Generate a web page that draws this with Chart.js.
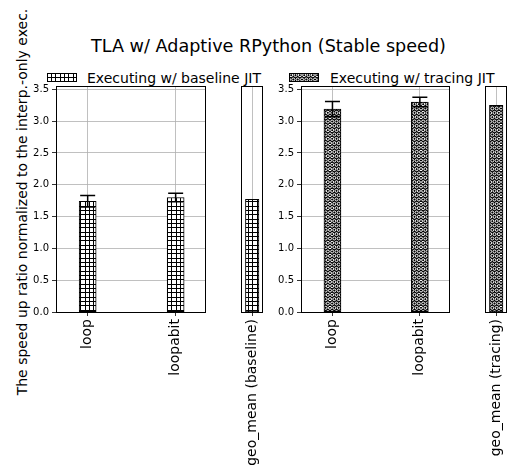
<!DOCTYPE html>
<html>
<head>
<meta charset="utf-8">
<script src="https://cdn.jsdelivr.net/npm/chart.js@4.4.0/dist/chart.umd.min.js"></script>
<style>
  body { margin: 0; width: 526px; height: 471px; overflow: hidden; background: #fff; position: relative;
         font-family: "DejaVu Sans", sans-serif; color: #000; }
  .abs { position: absolute; }
  #title { left: 0; width: 537px; top: 38px; text-align: center; font-size: 17.6px; line-height: 17.6px; white-space: nowrap; }
  .legtext { font-size: 14px; line-height: 14px; top: 71px; white-space: nowrap; }
  #ylabel { font-size: 14px; line-height: 14px; white-space: nowrap; left: 22px; top: 202px;
            transform: translate(-50%, -50%) rotate(-90deg); }
</style>
</head>
<body>
<div id="title" class="abs">TLA w/ Adaptive RPython (Stable speed)</div>
<canvas id="swBase" class="abs" width="30" height="9" style="left:47px;top:73px"></canvas>
<div class="abs legtext" style="left:87px">Executing w/ baseline JIT</div>
<canvas id="swTrace" class="abs" width="30" height="9" style="left:289px;top:73px"></canvas>
<div class="abs legtext" style="left:330px">Executing w/ tracing JIT</div>
<div id="ylabel" class="abs">The speed up ratio normalized to the interp.-only exec.</div>

<canvas id="p1" class="abs" width="194" height="396" style="left:20px;top:76px"></canvas>
<canvas id="p2" class="abs" width="46" height="396" style="left:231px;top:76px"></canvas>
<canvas id="p3" class="abs" width="193" height="396" style="left:265px;top:76px"></canvas>
<canvas id="p4" class="abs" width="46" height="396" style="left:475px;top:76px"></canvas>

<script>
// values
const benchmarks = ['loop', 'loopabit'];
const baselineSpeedup = [1.74, 1.80];
const baselineError = [0.09, 0.065];
const tracingSpeedup = [3.19, 3.30];
const tracingError = [0.12, 0.075];
const geoBaseLabel = ['geo_mean (baseline)'];
const geoBaseline = [1.77];
const geoTraceLabel = ['geo_mean (tracing)'];
const geoTracing = [3.25];
const yTicks = [0.0, 0.5, 1.0, 1.5, 2.0, 2.5, 3.0, 3.5];
const yMax = 3.553;

// hatch patterns ('+' grid and 'o' circles)
function gridTile() {
    const c = document.createElement('canvas');
    c.width = 13; c.height = 13;
    const g = c.getContext('2d');
    g.fillStyle = '#fff'; g.fillRect(0, 0, 13, 13);
    g.strokeStyle = '#000'; g.lineWidth = 1;
    [0, 4, 8].forEach(p => {
        g.beginPath(); g.moveTo(p + 0.5, 0); g.lineTo(p + 0.5, 13); g.stroke();
        g.beginPath(); g.moveTo(0, p + 0.5); g.lineTo(13, p + 0.5); g.stroke();
    });
    return c;
}
function circleTile() {
    const c = document.createElement('canvas');
    c.width = 13; c.height = 26;
    const g = c.getContext('2d');
    g.fillStyle = '#000'; g.fillRect(0, 0, 13, 26);
    g.strokeStyle = '#fff'; g.lineWidth = 1;
    const step = 13 / 3;
    for (let r = 0; r < 6; r++) {
        for (let k = -1; k < 4; k++) {
            const cx = (k + 0.5 + (r % 2) * 0.5) * step;
            const cy = (r + 0.5) * step;
            g.beginPath(); g.arc(cx, cy, 1.5, 0, Math.PI * 2); g.stroke();
        }
    }
    return c;
}
function makePattern(ctx, tile) { return ctx.createPattern(tile, 'repeat'); }

function drawSwatch(id, tile) {
    const cv = document.getElementById(id);
    const g = cv.getContext('2d');
    g.fillStyle = makePattern(g, tile);
    g.fillRect(0, 0, cv.width, cv.height);
    g.strokeStyle = '#000'; g.lineWidth = 1;
    g.strokeRect(0.5, 0.5, cv.width - 1, cv.height - 1);
}
drawSwatch('swBase', gridTile());
drawSwatch('swTrace', circleTile());

// error bars + full box frame
const panelPlugin = {
    id: 'panelDeco',
    afterDatasetsDraw(chart, args, opts) {
        if (!opts.errors) return;
        const ctx = chart.ctx, yScale = chart.scales.y;
        const meta = chart.getDatasetMeta(0);
        const pts = chart.data.datasets[0].data;
        ctx.save();
        ctx.strokeStyle = '#000'; ctx.lineWidth = 1.5;
        meta.data.forEach((bar, i) => {
            const v = pts[i].y, e = opts.errors[i];
            const top = yScale.getPixelForValue(v + e);
            const bot = yScale.getPixelForValue(v - e);
            ctx.beginPath();
            ctx.moveTo(bar.x, top); ctx.lineTo(bar.x, bot);
            ctx.moveTo(bar.x - 7.5, top); ctx.lineTo(bar.x + 7.5, top);
            ctx.moveTo(bar.x - 7.5, bot); ctx.lineTo(bar.x + 7.5, bot);
            ctx.stroke();
        });
        ctx.restore();
    },
    afterDraw(chart) {
        const a = chart.chartArea, ctx = chart.ctx;
        ctx.save();
        ctx.strokeStyle = '#000'; ctx.lineWidth = 1;
        ctx.strokeRect(Math.round(a.left) + 0.5, Math.round(a.top) + 0.5,
                       Math.round(a.right - a.left) - 1, Math.round(a.bottom - a.top));
        ctx.restore();
    }
};

function makePanel(id, labels, values, errors, tile, opt) {
    const cv = document.getElementById(id);
    const ctx = cv.getContext('2d');
    const data = values.map((v, i) => ({ x: i, y: v }));
    return new Chart(cv, {
        type: 'bar',
        data: {
            datasets: [{
                data: data,
                backgroundColor: makePattern(ctx, tile),
                borderColor: '#000',
                borderWidth: 1,
                borderSkipped: false,
                barThickness: opt.barWidth
            }]
        },
        plugins: [panelPlugin],
        options: {
            responsive: false,
            animation: false,
            layout: { padding: opt.padding },
            plugins: {
                legend: { display: false },
                tooltip: { enabled: false },
                panelDeco: { errors: errors }
            },
            scales: {
                x: {
                    type: 'linear',
                    offset: false,
                    min: opt.xMin,
                    max: opt.xMax,
                    z: 1,
                    afterFit: s => { s.height = 160; },
                    ticks: {
                        stepSize: 1,
                        includeBounds: false,
                        autoSkip: false,
                        callback: v => labels[v],
                        maxRotation: 90, minRotation: 90,
                        padding: 3,
                        color: '#000',
                        font: { family: 'DejaVu Sans', size: 14 }
                    },
                    grid: { offset: false, color: '#b0b0b0', lineWidth: 0.8, tickColor: '#000', tickLength: 4 },
                    border: { display: false }
                },
                y: {
                    display: opt.showY,
                    min: 0,
                    max: yMax,
                    z: 1,
                    afterFit: s => { if (opt.showY) s.width = 36; },
                    ticks: {
                        stepSize: 0.5,
                        includeBounds: false,
                        callback: v => yTicks.includes(v) ? v.toFixed(1) : '',
                        padding: 3,
                        color: '#000',
                        font: { family: 'DejaVu Sans', size: 10 }
                    },
                    grid: { color: '#b0b0b0', lineWidth: 0.8, tickColor: '#000', tickLength: 4 },
                    border: { display: false }
                }
            }
        }
    });
}

const wideOpt = { xMin: -0.36, xMax: 1.345, barWidth: 17, showY: true,
                  padding: { top: 10, right: 8, left: 0, bottom: 0 } };
const narrowOpt = { xMin: -0.99, xMax: 0.99, barWidth: 13.5, showY: false,
                    padding: { top: 10, right: 10, left: 10, bottom: 0 } };

const base = gridTile(), trace = circleTile();
makePanel('p1', benchmarks, baselineSpeedup, baselineError, base, wideOpt);
makePanel('p2', geoBaseLabel, geoBaseline, null, base, narrowOpt);
makePanel('p3', benchmarks, tracingSpeedup, tracingError, trace, wideOpt);
makePanel('p4', geoTraceLabel, geoTracing, null, trace, narrowOpt);
</script>
</body>
</html>
